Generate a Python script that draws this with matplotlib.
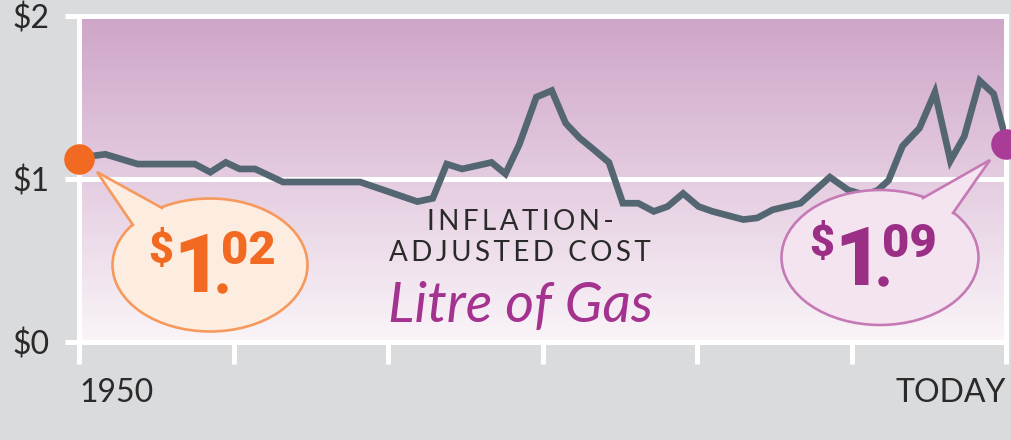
import numpy as np
import matplotlib
matplotlib.use("Agg")
import matplotlib.pyplot as plt
from matplotlib.colors import LinearSegmentedColormap
from matplotlib.patches import Ellipse, Polygon

# data (inflation-adjusted $ per litre)
years = [1950.0, 1950.9, 1951.7, 1953.8, 1957.5, 1958.5, 1959.5, 1960.4, 1961.4,
         1963.2, 1967.3, 1968.2, 1971.9, 1972.9, 1973.8, 1974.8, 1976.7, 1977.6,
         1978.5, 1979.6, 1980.6, 1981.5, 1982.4, 1983.3, 1984.3, 1985.2, 1986.2,
         1987.2, 1988.1, 1989.1, 1990.1, 1991.0, 1993.0, 1993.9, 1994.9, 1996.7,
         1998.6, 1999.8, 2000.9, 2001.7, 2002.4, 2003.3, 2004.4, 2005.4, 2006.4,
         2007.3, 2008.3, 2009.2, 2010.0]
prices = [1.12, 1.14, 1.15, 1.09, 1.09, 1.04, 1.10, 1.06, 1.06,
          0.98, 0.98, 0.98, 0.86, 0.88, 1.09, 1.06, 1.10, 1.03,
          1.21, 1.50, 1.54, 1.34, 1.25, 1.18, 1.10, 0.85, 0.85,
          0.80, 0.83, 0.91, 0.83, 0.80, 0.75, 0.76, 0.81, 0.85,
          1.01, 0.93, 0.90, 0.93, 0.99, 1.20, 1.31, 1.53, 1.11,
          1.26, 1.60, 1.52, 1.24]
start_point = (1950, 1.12)
end_point = (2010, 1.21)
start_label = ("$", "1", "02")
end_label = ("$", "1", "09")
y_ticks = [0, 1, 2]
y_tick_labels = ["$0", "$1", "$2"]
x_ticks = [1950, 1960, 1970, 1980, 1990, 2000, 2010]
x_tick_labels = ["1950", "", "", "", "", "", "TODAY"]

BG = "#dadbdd"
LINE = "#546672"
ORANGE = "#f26a21"
MAGENTA = "#a93c97"
TEXT = "#2a2a2a"
FONT = ["Lato", "DejaVu Sans"]
NUM_FONT = ["Roboto", "DejaVu Sans"]

plt.rcParams["font.family"] = FONT

fig = plt.figure(figsize=(10.11, 4.40), dpi=100, facecolor=BG)
ax = fig.add_axes([79 / 1011, 1 - 342 / 440, (1006 - 79) / 1011, (342 - 15.5) / 440])
ax.set_xlim(1950, 2010)
ax.set_ylim(0, 2)

# background gradient, purple at the top fading to white
cmap = LinearSegmentedColormap.from_list(
    "bg", [(0, "#faf5f9"), (0.5, "#e4cce0"), (1, "#cea5c8")])
grad = np.linspace(0, 1, 256).reshape(-1, 1)
ax.imshow(grad, cmap=cmap, origin="lower", aspect="auto",
          extent=(1950, 2010, 0, 2), zorder=0)

for s in ax.spines.values():
    s.set_color("white")
    s.set_linewidth(3.6)
    s.set_zorder(2)
ax.axhline(1, color="white", lw=3.6, zorder=1)

ax.set_yticks(y_ticks)
ax.set_yticklabels(y_tick_labels)
ax.set_xticks(x_ticks)
ax.set_xticklabels(x_tick_labels)
ax.tick_params(axis="y", length=10, width=3.6, color="white", pad=11,
               labelsize=23, labelcolor=TEXT)
ax.tick_params(axis="x", length=16, width=3.6, color="white", pad=10,
               labelsize=23, labelcolor=TEXT)
xl = ax.get_xticklabels()
xl[0].set_ha("left")
xl[0].set_x(1949.5)
xl[-1].set_ha("right")

ax.plot(years, prices, color=LINE, lw=4.8, solid_joinstyle="miter",
        solid_capstyle="butt", zorder=3)
ax.plot(*start_point, "o", ms=21, color=ORANGE, clip_on=False, zorder=4)
ax.plot(*end_point, "o", ms=21, color=MAGENTA, clip_on=False, zorder=4)

# overlay in pixel space for callouts
ov = fig.add_axes([0, 0, 1, 1], zorder=5)
ov.set_xlim(0, 1011)
ov.set_ylim(440, 0)
ov.axis("off")


def bubble(center, w, h, base1, base2, tip, face, edge):
    ov.add_patch(Ellipse(center, w, h, facecolor=face, edgecolor=edge, lw=1.9))
    cx, cy = center
    inner = [(cx + (bx - cx) * 0.93, cy + (by - cy) * 0.93) for bx, by in (base1, base2)]
    ov.add_patch(Polygon([inner[0], base1, tip, base2, inner[1]],
                         closed=True, facecolor=face, edgecolor="none"))
    ov.plot([base1[0], tip[0], base2[0]], [base1[1], tip[1], base2[1]],
            color=edge, lw=1.9, solid_joinstyle="miter")


def price_text(x_one, y_base, parts, color):
    dollar, one, cents = parts
    ov.text(x_one - 24, y_base - 2, dollar, fontsize=31, fontweight="black",
            family=NUM_FONT, color=color, ha="right", va="baseline")
    ov.text(x_one, y_base + 28, one, fontsize=59, fontweight="black",
            family=NUM_FONT, color=color, ha="center", va="baseline")
    ov.plot(x_one + 25, y_base + 24, "o", ms=6.5, color=color)
    ov.text(x_one + 24, y_base, cents, fontsize=34, fontweight="black",
            family=NUM_FONT, color=color, ha="left", va="baseline")


bubble((210, 265), 195, 133, (162, 208), (133, 225), (97, 172), "#fdece0", "#f6995c")
price_text(197, 264, start_label, ORANGE)

bubble((880, 257.5), 197, 135, (923, 198), (953, 213), (990, 160), "#f3e4f0", "#c57ab6")
price_text(858, 257, end_label, "#9a2f85")

sp = "\u2009"
ov.text(520, 222, sp.join("INFLATION-"), fontsize=20, color=TEXT,
        ha="center", va="center")
ov.text(520, 253, sp.join("ADJUSTED COST"), fontsize=20, color=TEXT,
        ha="center", va="center")
ov.text(521, 322, "Litre of Gas", fontsize=40, style="italic", color="#a3338f",
        ha="center", va="baseline")

fig.savefig("out.png", dpi=100, facecolor=BG)
